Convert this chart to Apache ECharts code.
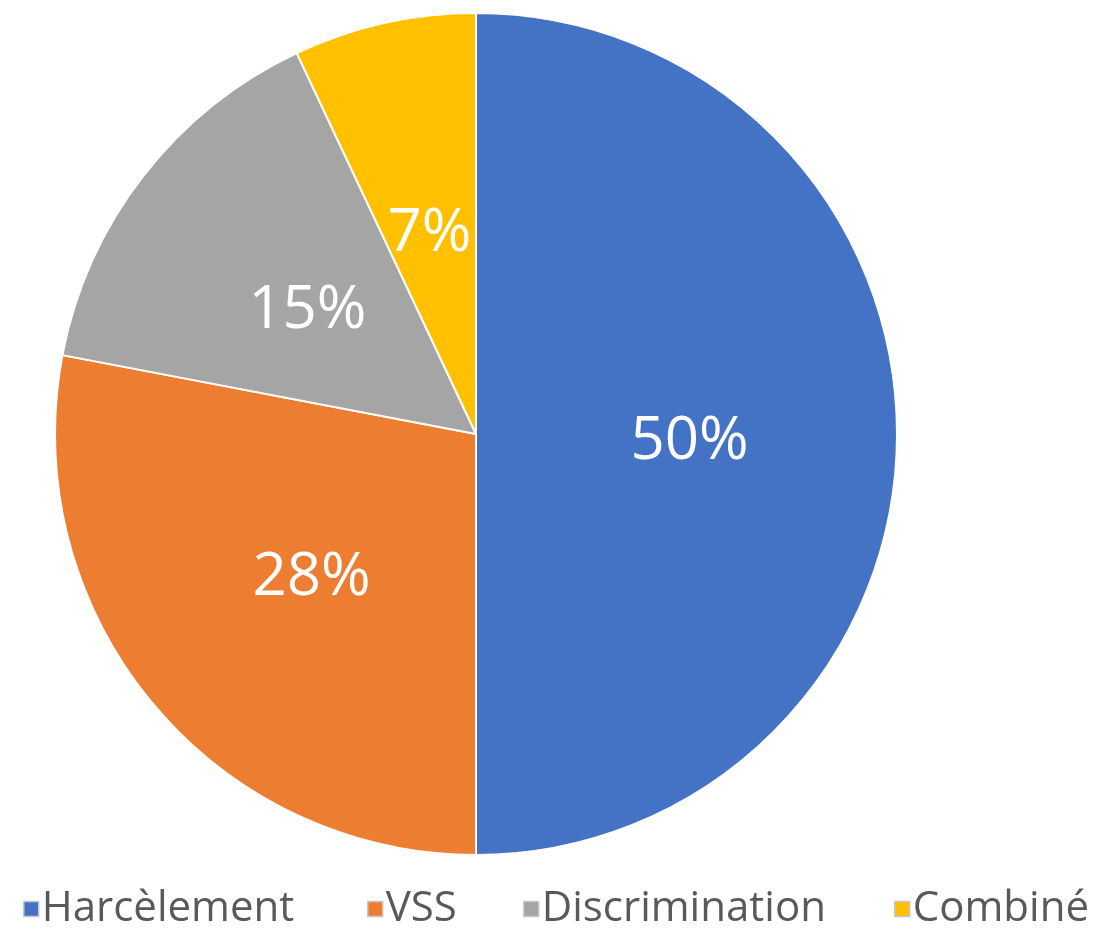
<!DOCTYPE html>
<html>
<head>
<meta charset="utf-8">
<script src="https://cdn.jsdelivr.net/npm/echarts@6/dist/echarts.min.js"></script>
<style>html,body{margin:0;padding:0;background:#fff;}#c{width:1100px;height:929px;}</style>
</head>
<body>
<div id="c"></div>
<script>
var categories = ['Harcèlement', 'VSS', 'Discrimination', 'Combiné'];
var values = [50, 28, 15, 7];
var colors = ['#4472C4', '#ED7D31', '#A5A5A5', '#FFC000'];

var chart = echarts.init(document.getElementById('c'));
var legendLefts = [23, 367, 523, 894];
var legends = categories.map(function (name, i) {
  return {
    data: [name],
    left: legendLefts[i],
    top: 888,
    itemWidth: 15,
    itemHeight: 15,
    itemGap: 0,
    icon: 'rect',
    padding: 0,
    selectedMode: false,
    itemStyle: { borderColor: '#c8c8c8', borderWidth: 1.5 },
    textStyle: { fontFamily: 'Open Sans', fontSize: 42, color: '#595959', padding: [0, 0, 0, -2] }
  };
});
chart.setOption({
  animation: false,
  color: colors,
  legend: legends,
  series: [{
    type: 'pie',
    center: [476, 434],
    radius: [0, 421],
    startAngle: 90,
    clockwise: true,
    data: categories.map(function (n, i) { return { name: n, value: values[i] }; }),
    itemStyle: { borderColor: '#ffffff', borderWidth: 2 },
    label: {
      show: true,
      position: 'inside',
      formatter: '{c}%',
      color: '#ffffff',
      fontFamily: 'Open Sans',
      fontSize: 60
    },
    labelLayout: { dy: 8 },
    labelLine: { show: false },
    emphasis: { disabled: true }
  }]
});
</script>
</body>
</html>
